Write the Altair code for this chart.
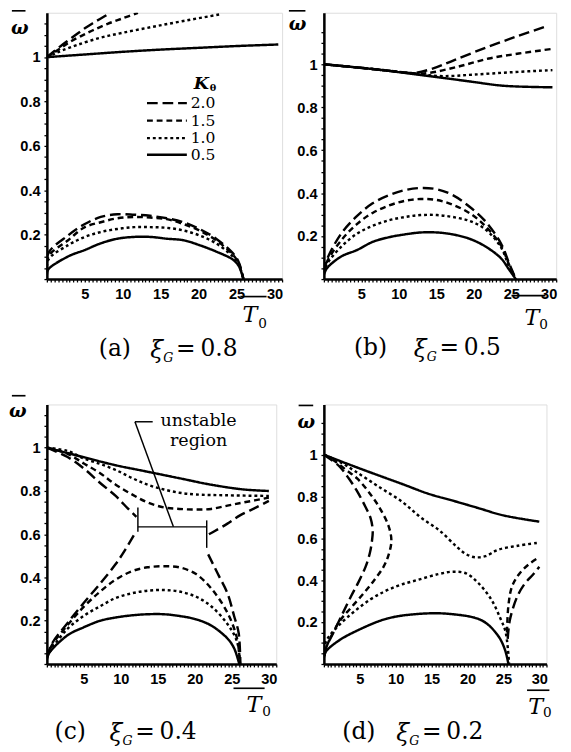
import altair as alt
import pandas as pd

K_LEVELS = ["2.0", "1.5", "1.0", "0.5"]
DASHES = [[11, 5], [6, 4], [3, 3], [1, 0]]
SERIF = "DejaVu Serif"
SANS = "Liberation Sans"

# ---------------- (a) xi_G = 0.8 : (T0, omega) ----------------
a_up_05 = [(0, 1.0), (5, 1.012), (10, 1.024), (15, 1.034), (20, 1.042), (25, 1.05), (30.5, 1.057)]
a_up_10 = [(0, 1.0), (1, 1.015), (2, 1.03), (4, 1.055), (7, 1.087), (10, 1.11), (14, 1.137), (18, 1.163), (22.7, 1.192)]
a_up_15 = [(0, 1.0), (1, 1.022), (2, 1.045), (3, 1.068), (4.5, 1.095), (6, 1.12), (8, 1.15), (10, 1.175), (12, 1.2)]
a_up_20 = [(0, 1.0), (1, 1.028), (2, 1.055), (3, 1.08), (4, 1.105), (5, 1.13), (6, 1.152), (7, 1.172), (8.4, 1.2)]
a_lo_05 = [(0, 0.02), (0.2, 0.044), (2.8, 0.102), (5, 0.131), (7.1, 0.161), (9.3, 0.182), (11.5, 0.19), (13.6, 0.19),
           (15.8, 0.182), (18, 0.175), (20.1, 0.153), (22.3, 0.124), (24.5, 0.088), (25.3, 0.058), (25.9, 0.0)]
a_lo_10 = [(0, 0.03), (0.2, 0.088), (2.8, 0.153), (5, 0.19), (7.1, 0.212), (9.3, 0.226), (11.5, 0.234), (13.6, 0.234),
           (15.8, 0.231), (18, 0.219), (20.1, 0.197), (22.3, 0.161), (24.5, 0.102), (25.3, 0.065), (25.9, 0.0)]
a_lo_15 = [(0, 0.03), (0.2, 0.102), (2.8, 0.175), (5, 0.234), (7.1, 0.256), (9.3, 0.274), (11.5, 0.28), (13.6, 0.277),
           (15.8, 0.27), (18, 0.248), (20.1, 0.219), (22.3, 0.175), (24.5, 0.11), (25.3, 0.07), (25.9, 0.0)]
a_lo_20 = [(0, 0.03), (0.2, 0.117), (2.8, 0.197), (5, 0.248), (7.1, 0.28), (9.3, 0.292), (11.5, 0.29), (13.6, 0.285),
           (15.8, 0.274), (18, 0.256), (20.1, 0.226), (22.3, 0.182), (24.5, 0.117), (25.3, 0.075), (25.9, 0.0)]

# ---------------- (b) xi_G = 0.5 ----------------
b_up_05 = [(0, 1.0), (6.5, 0.978), (13, 0.95), (19.5, 0.92), (24, 0.9), (30.5, 0.893)]
b_up_10 = [(0, 1.0), (6.5, 0.978), (10, 0.965), (13, 0.952), (16, 0.945), (20, 0.952), (25, 0.963), (30.5, 0.973)]
b_up_15 = [(0, 1.0), (6.5, 0.978), (10, 0.965), (12, 0.958), (14, 0.96), (18, 0.99), (22, 1.027), (26, 1.05), (30.5, 1.072)]
b_up_20 = [(0, 1.0), (6.5, 0.978), (10, 0.965), (12, 0.96), (14.5, 0.98), (17.4, 1.02), (21.8, 1.08), (26, 1.133), (29.8, 1.178)]
b_lo_05 = [(0, 0.02), (0.4, 0.05), (2.3, 0.105), (4.4, 0.135), (6.5, 0.173), (8.7, 0.195), (10.8, 0.208), (12.9, 0.217),
           (15.1, 0.217), (17.2, 0.208), (19.4, 0.188), (21.5, 0.153), (23.6, 0.098), (24.7, 0.045), (25.6, 0.0)]
b_lo_10 = [(0, 0.03), (0.4, 0.07), (2.3, 0.15), (4.4, 0.211), (6.5, 0.248), (8.7, 0.274), (10.8, 0.289), (12.9, 0.298),
           (15.1, 0.298), (17.2, 0.289), (19.4, 0.271), (21.5, 0.233), (23.6, 0.15), (24.7, 0.06), (25.6, 0.0)]
b_lo_15 = [(0, 0.03), (0.4, 0.08), (2.3, 0.18), (4.4, 0.256), (6.5, 0.308), (8.7, 0.343), (10.8, 0.364), (12.9, 0.373),
           (15.1, 0.368), (17.2, 0.346), (19.4, 0.308), (21.5, 0.248), (23.6, 0.158), (24.7, 0.068), (25.6, 0.0)]
b_lo_20 = [(0, 0.03), (0.4, 0.09), (2.3, 0.211), (4.4, 0.293), (6.5, 0.353), (8.7, 0.391), (10.8, 0.414), (12.9, 0.424),
           (15.1, 0.418), (17.2, 0.391), (19.4, 0.338), (21.5, 0.271), (23.6, 0.168), (24.7, 0.075), (25.6, 0.0)]

# ---------------- (c) xi_G = 0.4 ----------------
c_up_05 = [(0, 1.0), (5, 0.956), (9.3, 0.919), (13.6, 0.889), (17.9, 0.859), (22.2, 0.829), (26.6, 0.807), (30, 0.8)]
c_up_10 = [(0, 1.0), (2.8, 0.985), (5, 0.95), (7.2, 0.925), (9.3, 0.897), (11.5, 0.86), (13.6, 0.829), (15.8, 0.807),
           (17.9, 0.792), (20.1, 0.784), (24.4, 0.78), (30, 0.777)]
c_up_15 = [(0, 1.0), (2.8, 0.972), (5, 0.927), (7.2, 0.882), (9.3, 0.829), (11.5, 0.784), (13.6, 0.747), (15.8, 0.724),
           (17.9, 0.717), (20.1, 0.714), (22.2, 0.717), (24.4, 0.732), (26.6, 0.747), (30, 0.769)]
c_up_20_left = [(0, 1.0), (2.8, 0.957), (5, 0.904), (7.2, 0.837), (9.3, 0.777), (11, 0.717), (12.1, 0.68)]
c_lo_20_left = [(0, 0.03), (0.7, 0.095), (2.8, 0.19), (5, 0.283), (7.2, 0.372), (9.3, 0.462), (10.6, 0.529), (11.9, 0.604)]
c_up_20_right = [(21.9, 0.6), (22.7, 0.615), (24.4, 0.649), (26.1, 0.687), (28.3, 0.724), (30, 0.754)]
c_lo_20_right = [(21.8, 0.507), (23.1, 0.417), (24.4, 0.327), (25.3, 0.222), (25.9, 0.147), (26.1, 0.058), (26.15, 0.0)]
c_lo_15 = [(0, 0.03), (0.7, 0.088), (2.8, 0.18), (5, 0.265), (7.2, 0.335), (9.3, 0.39), (11.5, 0.429), (13.6, 0.447),
           (15.8, 0.452), (17.9, 0.447), (20.1, 0.417), (22.2, 0.35), (24.4, 0.237), (25.7, 0.118), (26.1, 0.0)]
c_lo_10 = [(0, 0.03), (0.7, 0.073), (2.8, 0.163), (5, 0.223), (7.2, 0.267), (9.3, 0.305), (11.5, 0.327), (13.6, 0.339),
           (15.8, 0.342), (17.9, 0.335), (20.1, 0.312), (22.2, 0.267), (24.4, 0.185), (25.7, 0.103), (26.1, 0.0)]
c_lo_05 = [(0, 0.02), (0.3, 0.05), (2.8, 0.133), (5, 0.17), (7.2, 0.2), (9.3, 0.215), (11.5, 0.225), (13.6, 0.23),
           (15.8, 0.23), (17.9, 0.222), (20.1, 0.207), (22.2, 0.178), (24.4, 0.118), (25.3, 0.073), (26, 0.0)]
# unstable-region marker (data coordinates): T, w, T2, w2
c_marker = [(12.3, 0.634, 21.6, 0.634), (12.3, 0.612, 12.3, 0.724), (21.6, 0.537, 21.6, 0.664),
            (11.9, 1.12, 17.1, 0.634), (11.9, 1.12, 14.3, 1.12)]
c_marker_text = [("unstable", 20.5, 1.124), ("region", 20.5, 1.03)]

# ---------------- (d) xi_G = 0.2 ----------------
d_up_05 = [(0, 1.0), (3, 0.96), (6.5, 0.915), (10.9, 0.86), (14.5, 0.814), (18, 0.78), (21.5, 0.745), (25, 0.71), (30, 0.68)]
d_up_10 = [(0, 1.0), (2, 0.97), (4.3, 0.922), (7.5, 0.85), (10.9, 0.775), (13.5, 0.7), (16.2, 0.635), (18.5, 0.56),
           (19.8, 0.525), (21, 0.51), (22.5, 0.515), (24.2, 0.545), (27, 0.565), (30, 0.58)]
d_lo_10 = [(0, 0.04), (0.3, 0.107), (2.1, 0.185), (6.5, 0.309), (10, 0.37), (13.1, 0.402), (16, 0.43), (18, 0.441),
           (19.8, 0.433), (21.5, 0.387), (23.3, 0.309), (24.6, 0.216), (25.3, 0.154), (25.8, 0.0)]
d_15 = [(0, 1.0), (1.2, 0.977), (3, 0.93), (4.7, 0.884), (6.5, 0.81), (7.8, 0.744), (9.0, 0.66), (9.4, 0.589), (9.0, 0.52),
        (8.3, 0.464), (7, 0.4), (5.6, 0.34), (3.8, 0.27), (2.1, 0.2), (0.3, 0.076), (0, 0.03)]
d_20 = [(0, 1.0), (2.1, 0.946), (3.5, 0.885), (4.7, 0.821), (5.8, 0.75), (6.5, 0.697), (6.8, 0.64), (6.7, 0.589),
        (6.4, 0.53), (5.8, 0.464), (4.8, 0.39), (3.8, 0.325), (1.6, 0.169), (0.3, 0.076), (0, 0.03)]
d_15_right = [(25.5, 0.15), (25.7, 0.28), (26.2, 0.37), (27.2, 0.43), (28.5, 0.475), (30, 0.511)]
d_20_right = [(25.6, 0.12), (25.9, 0.21), (26.9, 0.32), (28, 0.385), (29.2, 0.43), (30, 0.465)]
d_lo_05 = [(0, 0.03), (0.3, 0.06), (2, 0.11), (4.3, 0.154), (8.7, 0.216), (13.1, 0.239), (17.6, 0.239), (22, 0.208),
           (24.2, 0.138), (25.2, 0.07), (25.7, 0.0)]

X_TICKS = [i * 0.5 for i in range(63)]
Y_TICKS = [round(i * 0.05, 2) for i in range(24)]
ONE = pd.DataFrame({"k": [0]})


def curves_df(curves):
    rows = []
    for cid, (k, pts) in enumerate(curves):
        for i, (t, w) in enumerate(pts):
            rows.append({"T": t, "w": w, "K": k, "curve": cid, "i": i})
    return pd.DataFrame(rows)


def x_axis():
    return alt.Axis(values=X_TICKS,
                    labelExpr="datum.value > 0 && datum.value % 5 == 0 ? format(datum.value, 'd') : ''",
                    title=None, grid=False, domainColor="black", domainWidth=2.6, tickColor="black",
                    tickSize=3, tickWidth=1.3, labelFont=SANS, labelFontWeight="bold", labelFontSize=15,
                    labelColor="black", labelPadding=5, labelOverlap=False, labelFlush=False)


def y_axis():
    return alt.Axis(values=Y_TICKS,
                    labelExpr="(datum.value > 0.1 && datum.value < 1.1 && abs(datum.value * 5 - round(datum.value * 5)) < 0.001) ? (datum.value > 0.99 ? '1' : format(datum.value, '.1f')) : ''",
                    title=None, grid=False, domainColor="black", domainWidth=2.6, tickColor="black",
                    tickSize=3, tickWidth=1.3, labelFont=SANS, labelFontWeight="bold", labelFontSize=15,
                    labelColor="black", labelPadding=4, labelOverlap=False, labelFlush=False)


def xenc(field="T"):
    return alt.X(f"{field}:Q", scale=alt.Scale(domain=[0, 31], nice=False, zero=False), axis=x_axis())


def yenc(ydom, field="w"):
    return alt.Y(f"{field}:Q", scale=alt.Scale(domain=[0, ydom], nice=False), axis=y_axis())


def ptext(s, x, y, size, style="normal", weight="normal", font=SERIF, align="center"):
    return alt.Chart(ONE).mark_text(text=s, fontSize=size, fontStyle=style, fontWeight=weight, font=font,
                                    align=align, baseline="middle", color="black").encode(
        x=alt.value(x), y=alt.value(y))


def pbar(x1, x2, y, width=1.5, dash=None):
    kw = dict(color="black", strokeWidth=width)
    if dash is not None:
        kw["strokeDash"] = dash
    return alt.Chart(ONE).mark_rule(**kw).encode(x=alt.value(x1), x2=alt.value(x2), y=alt.value(y))


def labels(tag, val, omega, t0, title):
    ox, oy, bx1, bx2, by = omega
    tx, ty, sx, sy, tb1, tb2, tby = t0
    px, xx, yy = title
    return [
        ptext("ω", ox, oy, 19, style="italic", weight="bold"),
        pbar(bx1, bx2, by, 1.7),
        ptext("T", tx, ty, 23, style="italic"),
        ptext("0", sx, sy, 14),
        pbar(tb1, tb2, tby, 1.7),
        ptext(tag, px, yy, 24),
        ptext("ξ", xx, yy + 2, 24, style="italic"),
        ptext("G", xx + 12, yy + 9, 13, style="italic"),
        ptext("=", xx + 30, yy, 24),
        ptext(val, xx + 64, yy, 24),
    ]


def panel(curves, width, height, ydom, extras):
    df = curves_df(curves)
    lines = alt.Chart(df).mark_line(color="black", strokeWidth=2.5, clip=True,
                                    interpolate="catmull-rom").encode(
        x=xenc(), y=yenc(ydom),
        strokeDash=alt.StrokeDash("K:N", scale=alt.Scale(domain=K_LEVELS, range=DASHES), legend=None),
        detail="curve:N",
        order="i:Q",
    )
    return alt.layer(lines, *extras).properties(width=width, height=height)


# legend drawn inside panel (a)
legend_a = [ptext("K", 159, 73, 18, style="italic", weight="bold"), ptext("θ", 171, 78, 10, weight="bold")]
for row, (k, dash) in enumerate(zip(K_LEVELS, DASHES)):
    yy = [93, 111, 129, 146][row]
    legend_a.append(pbar(103, 144, yy, 2.5, None if k == "0.5" else dash))
    legend_a.append(ptext(k, 148, yy, 16, align="left"))

pa = panel([("2.0", a_up_20), ("1.5", a_up_15), ("1.0", a_up_10), ("0.5", a_up_05),
            ("2.0", a_lo_20), ("1.5", a_lo_15), ("1.0", a_lo_10), ("0.5", a_lo_05)],
           242, 274, 1.2,
           legend_a + labels("(a)", "0.8", (-28, 16, -36, -22, -2), (209, 311, 222, 320, 199, 226, 292),
                             (70, 113, 346)))

pb = panel([("2.0", b_up_20), ("1.5", b_up_15), ("1.0", b_up_10), ("0.5", b_up_05),
            ("2.0", b_lo_20), ("1.5", b_lo_15), ("1.0", b_lo_10), ("0.5", b_lo_05)],
           239, 274, 1.24,
           labels("(b)", "0.5", (-27, 12, -36, -19, -2), (214, 314, 226, 321, 193, 228, 291),
                  (48, 99, 345)))

marker_df = pd.DataFrame(c_marker, columns=["T", "w", "T2", "w2"])
marker_txt = pd.DataFrame(c_marker_text, columns=["t", "T", "w"])
c_extra = [
    alt.Chart(marker_df).mark_rule(color="black", strokeWidth=1.5).encode(
        x=xenc(), y=yenc(1.2), x2="T2:Q", y2="w2:Q"),
    alt.Chart(marker_txt).mark_text(font=SERIF, fontSize=18, color="black", baseline="middle").encode(
        x=xenc(), y=yenc(1.2), text="t:N"),
]
pc = panel([("2.0", c_up_20_left), ("2.0", c_lo_20_left), ("2.0", c_up_20_right), ("2.0", c_lo_20_right),
            ("1.5", c_up_15), ("1.0", c_up_10), ("0.5", c_up_05),
            ("1.5", c_lo_15), ("1.0", c_lo_10), ("0.5", c_lo_05)],
           236, 267, 1.2,
           c_extra + labels("(c)", "0.4", (-30, 7, -36, -22, -9), (213, 309, 226, 316, 192, 224, 292),
                            (24, 71, 337)))

pd_ = panel([("2.0", d_20), ("1.5", d_15), ("1.0", d_up_10), ("1.0", d_lo_10), ("0.5", d_up_05),
             ("0.5", d_lo_05), ("1.5", d_15_right), ("2.0", d_20_right)],
            229, 267, 1.24,
            labels("(d)", "0.2", (-18, 18, -26, -11, 1), (218, 311, 230, 318, 209, 232, 294),
                   (36, 81, 337)))

chart = alt.concat(pa, pb, pc, pd_, columns=2, spacing={"row": 129, "column": 43}, bounds="flush").properties(
    padding={"left": 0, "top": -10, "right": 5, "bottom": 5}
).configure_view(stroke=None).configure(background="white")

chart.save("out.html", embed_options={"renderer": "svg", "actions": False})
